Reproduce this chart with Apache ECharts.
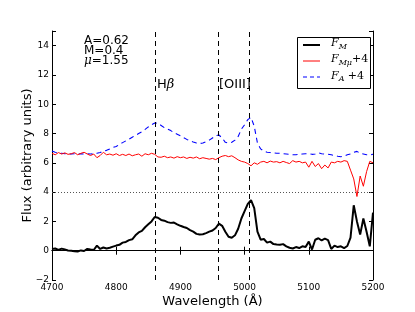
<!DOCTYPE html>
<html><head><meta charset="utf-8">
<script src="https://cdn.jsdelivr.net/npm/echarts@6/dist/echarts.min.js"></script>
<style>html,body{margin:0;padding:0;background:#fff}#c{width:415px;height:312px}</style>
</head><body><div id="c"></div>
<script>
const wavelength = [4700,4705,4710,4715,4720,4725,4730,4735,4740,4745,4750,4755,4760,4765,4770,4775,4780,4785,4790,4795,
4800,4805,4810,4815,4820,4825,4830,4835,4840,4845,4850,4855,4860,4865,4870,4875,4880,4885,4890,4895,
4900,4905,4910,4915,4920,4925,4930,4935,4940,4945,4950,4955,4960,4965,4970,4975,4980,4985,4990,4995,
5000,5005,5010,5015,5020,5025,5030,5035,5040,5045,5050,5055,5060,5065,5070,5075,5080,5085,5090,5095,
5100,5105,5110,5115,5120,5125,5130,5135,5140,5145,5150,5155,5160,5165,5170,5175,5180,5185,5190,5195,5200];
const fluxM = [0.12,0.15,0.05,0.14,0.08,0.02,0.0,-0.03,-0.05,0.02,-0.02,0.12,0.08,0.05,0.35,0.12,0.22,0.15,0.2,0.28,
0.35,0.4,0.55,0.6,0.72,0.78,1.05,1.25,1.35,1.6,1.8,2.0,2.3,2.25,2.1,2.05,1.95,1.9,1.92,1.8,
1.7,1.62,1.55,1.4,1.3,1.15,1.1,1.12,1.2,1.3,1.38,1.55,1.85,1.7,1.3,0.95,0.88,1.05,1.5,2.2,
2.7,3.2,3.45,2.9,1.3,0.75,0.8,0.55,0.62,0.45,0.42,0.4,0.45,0.3,0.2,0.15,0.25,0.18,0.3,0.25,
0.62,0.08,0.75,0.85,0.7,0.82,0.72,0.12,0.35,0.25,0.3,0.18,0.32,0.9,3.1,2.0,1.1,2.2,1.3,0.3,2.6];
const fluxMmu4 = [6.65,6.55,6.7,6.6,6.68,6.58,6.62,6.7,6.55,6.65,6.72,6.6,6.5,6.6,6.35,6.5,6.72,6.55,6.6,6.52,
6.62,6.5,6.58,6.5,6.6,6.48,6.55,6.6,6.45,6.62,6.55,6.65,6.58,6.4,6.38,6.45,6.35,6.4,6.32,6.42,
6.35,6.4,6.3,6.38,6.32,6.4,6.28,6.35,6.3,6.25,6.3,6.22,6.35,6.45,6.5,6.42,6.48,6.35,6.2,6.1,
6.05,5.95,5.8,6.0,5.9,6.05,6.1,6.0,6.12,6.05,6.08,6.0,6.1,6.02,5.95,6.15,6.05,6.1,6.0,6.05,
5.7,6.1,5.75,5.95,5.6,5.85,5.65,6.05,6.0,6.1,6.05,6.15,6.1,5.5,4.9,3.7,5.1,4.4,5.4,6.1,6.0];
const fluxA4 = [6.8,6.72,6.68,6.65,6.62,6.6,6.6,6.62,6.6,6.62,6.6,6.62,6.6,6.62,6.65,6.7,6.78,6.85,6.95,7.05,
7.12,7.25,7.38,7.5,7.62,7.75,7.88,8.0,8.12,8.28,8.45,8.6,8.72,8.7,8.55,8.4,8.3,8.2,8.05,7.95,
7.85,7.72,7.6,7.5,7.42,7.35,7.32,7.35,7.45,7.55,7.7,7.85,7.9,7.7,7.4,7.35,7.4,7.55,7.8,8.3,
8.6,8.95,9.1,8.5,7.35,6.95,6.8,6.72,6.7,6.68,6.65,6.65,6.62,6.6,6.58,6.55,6.55,6.58,6.6,6.62,
6.62,6.58,6.6,6.68,6.62,6.6,6.58,6.55,6.5,6.45,6.42,6.45,6.55,6.6,6.72,6.78,6.65,6.6,6.55,6.55,6.58];
const lineWavelengths = [4861, 4959, 5007];
const xTicks = [4700, 4800, 4900, 5000, 5100, 5200];
const yTicks = [-2, 0, 2, 4, 6, 8, 10, 12, 14];

const FONT = 'DejaVu Sans';
const pair = arr => wavelength.map((w, i) => [w, arr[i]]);
const chart = echarts.init(document.getElementById('c'), null, {renderer: 'canvas'});
const axisCommon = {
  type: 'value', axisLine: {show: true, lineStyle: {color: '#000', width: 1}},
  axisTick: {show: true, inside: true, length: 4, lineStyle: {color: '#000'}},
  splitLine: {show: false}
};
chart.setOption({
  animation: false,
  grid: {left: 52, right: 42, top: 31, bottom: 32, containLabel: false, outerBoundsMode: 'none'},
  xAxis: [
    Object.assign({}, axisCommon, {min: xTicks[0], max: xTicks[xTicks.length-1], interval: 100, position: 'bottom',
      axisLabel: {color: '#000', fontFamily: FONT, fontSize: 9, margin: 3, formatter: v => String(v)},
      name: 'Wavelength (Å)', nameLocation: 'middle', nameGap: 15, nameMoveOverlap: false,
      nameTextStyle: {color: '#000', fontFamily: FONT, fontSize: 13, verticalAlign: 'top'}}),
    Object.assign({}, axisCommon, {min: xTicks[0], max: xTicks[xTicks.length-1], interval: 100, position: 'top',
      axisLabel: {show: false}})
  ],
  yAxis: [
    Object.assign({}, axisCommon, {min: -2, max: 15, interval: 2, position: 'left',
      axisLabel: {color: '#000', fontFamily: FONT, fontSize: 9, margin: 3,
        formatter: v => (v > 14 ? '' : String(v).replace('-', '\u2212'))},
      name: 'Flux (arbitrary units)', nameLocation: 'middle', nameGap: 18, nameMoveOverlap: false,
      nameTextStyle: {color: '#000', fontFamily: FONT, fontSize: 13}}),
    Object.assign({}, axisCommon, {min: -2, max: 15, interval: 2, position: 'right',
      axisLabel: {show: false}})
  ],
  series: [
    {type: 'line', data: pair(fluxA4), showSymbol: false, z: 3,
      lineStyle: {color: '#0000ff', width: 1.1, type: [5, 4]}},
    {type: 'line', data: pair(fluxMmu4), showSymbol: false, z: 4,
      lineStyle: {color: '#ff0000', width: 1}},
    {type: 'line', data: pair(fluxM), showSymbol: false, z: 5,
      lineStyle: {color: '#000000', width: 2},
      markLine: {silent: true, symbol: ['none', 'none'], label: {show: false}, animation: false,
        data: [
          ...lineWavelengths.map(w => ({xAxis: w, lineStyle: {color: '#000', width: 1, type: [5, 4]}})),
          {yAxis: 0, lineStyle: {color: '#000', width: 1, type: 'solid'}},
          {yAxis: 4, lineStyle: {color: '#555', width: 1, type: [1, 2]}}
        ]}}
  ],
  graphic: [
    {type: 'text', left: 84, top: 35, style: {text: 'A=0.62', font: '12px "DejaVu Sans"', fill: '#000'}},
    {type: 'text', left: 84, top: 45, style: {text: 'M=0.4', font: '12px "DejaVu Sans"', fill: '#000'}},
    {type: 'text', left: 84, top: 55, style: {text: '{i|μ}=1.55', font: '12px "DejaVu Sans"', fill: '#000',
      rich: {i: {fontStyle: 'italic', fontFamily: 'DejaVu Serif', fontSize: 12}}}},
    {type: 'text', left: 157, top: 78, style: {text: 'H{i|β}', font: '13px "DejaVu Sans"', fill: '#000',
      rich: {i: {fontStyle: 'italic', fontFamily: 'DejaVu Serif', fontSize: 13}}}},
    {type: 'text', left: 219, top: 78, style: {text: '[OIII]', font: '13px "DejaVu Sans"', fill: '#000'}},
    {type: 'rect', shape: {x: 297.5, y: 37.5, width: 73, height: 51}, style: {fill: '#fff', stroke: '#000', lineWidth: 1}, z: 100},
    {type: 'line', shape: {x1: 303, y1: 45, x2: 320, y2: 45}, style: {stroke: '#000', lineWidth: 2}, z: 101},
    {type: 'line', shape: {x1: 303, y1: 61, x2: 320, y2: 61}, style: {stroke: '#ff0000', lineWidth: 1}, z: 101},
    {type: 'line', shape: {x1: 303, y1: 77, x2: 320, y2: 77}, style: {stroke: '#0000ff', lineWidth: 1.1, lineDash: [4, 3]}, z: 101},
    {type: 'text', left: 331, top: 38, z: 101, style: {text: '{f|F}{s|M}', fill: '#000',
      rich: {f: {fontFamily: 'DejaVu Serif', fontStyle: 'italic', fontSize: 11}, s: {fontFamily: 'DejaVu Serif', fontStyle: 'italic', fontSize: 8, padding: [6, 0, 0, 0]}}}},
    {type: 'text', left: 331, top: 54, z: 101, style: {text: '{f|F}{s|Mμ}{p|+4}', fill: '#000',
      rich: {f: {fontFamily: 'DejaVu Serif', fontStyle: 'italic', fontSize: 11}, s: {fontFamily: 'DejaVu Serif', fontStyle: 'italic', fontSize: 8, padding: [6, 0, 0, 0]}, p: {fontFamily: 'DejaVu Serif', fontSize: 11}}}},
    {type: 'text', left: 331, top: 70, z: 101, style: {text: '{f|F}{s|A} {p|+4}', fill: '#000',
      rich: {f: {fontFamily: 'DejaVu Serif', fontStyle: 'italic', fontSize: 11}, s: {fontFamily: 'DejaVu Serif', fontStyle: 'italic', fontSize: 8, padding: [6, 0, 0, 0]}, p: {fontFamily: 'DejaVu Serif', fontSize: 11}}}}
  ]
});
</script></body></html>
